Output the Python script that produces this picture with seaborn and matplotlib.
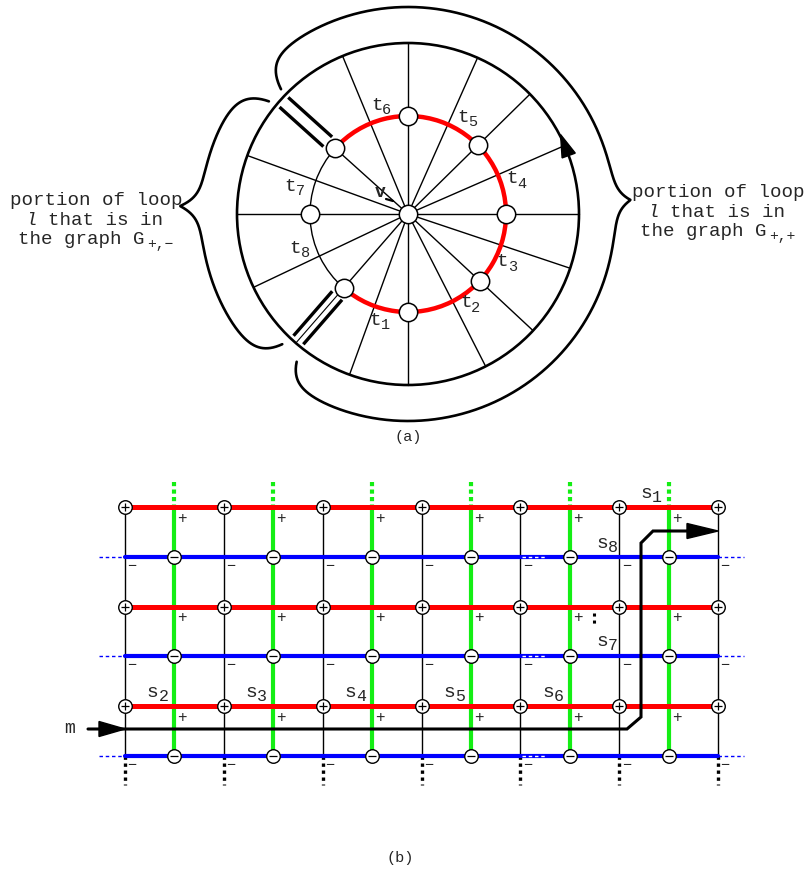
import numpy as np
import pandas as pd
import matplotlib
matplotlib.use("Agg")
import matplotlib.pyplot as plt
import seaborn as sns
from matplotlib.patches import Circle, Arc, Polygon

sns.set_style("white")
plt.rcParams['font.family'] = ['Liberation Mono', 'DejaVu Sans']

# ======== data ========

# (a) wheel: spoke directions (deg) and loop vertices t1..t8
spoke_angles = [90, 66, 44.5, 23.6, 0, -18.5, -43, -63, -90, -110, -131, -154.6, 180, 160, 138, 112.5]
cut_angles = [138, -131]            # spokes that are cut (double bars)
loop_node_angles = [90, 44.5, 0, -43, -90, -131, 180, 138]
red_arc = (-131, 138)               # part of loop in G+,+
t_names = ['1', '2', '3', '4', '5', '6', '7', '8']
t_angles = [-107, -57, -26.8, 18.6, 60.4, 106, 166.7, -163]
t_radius = [111, 106, 106, 110, 111, 113, 121, 118]

# (b) grid
n_black = 7
n_green = 6
red_rows = [0, 2, 4]
blue_rows = [1, 3, 5]
s_names = ['2', '3', '4', '5', '6']

# ======== layout (pixels) ========
W, H = 807, 871
cx, cy = 408, 214
R_out, R_in = 171, 98

x0, dx = 125, 98.85
y0, dy = 507, 49.8
gx0 = 174.4

fig = plt.figure(figsize=(W / 100, H / 100), dpi=100)
ax = fig.add_axes([0, 0, 1, 1])
ax.set_xlim(0, W)
ax.set_ylim(H, 0)
ax.axis('off')


def pol(a, r):
    t = np.deg2rad(a)
    return cx + r * np.cos(t), cy - r * np.sin(t)


def sub_text(x, y, base, sub, size, subsize, gap, drop, **kw):
    ax.text(x, y, base, fontsize=size, ha='center', va='center', **kw)
    ax.text(x + gap, y + drop, sub, fontsize=subsize, ha='center', va='center')


def brace(a0, a1, R, tip, h, hook0, hook1):
    th = np.linspace(a0, a1, 1500)
    r = R + h * np.exp(-np.abs(th - tip) / 2.6)
    r -= hook0 * np.exp(-(th - a0) / 3.2) + hook1 * np.exp(-(a1 - th) / 3.2)
    x, y = pol(th, r)
    ax.plot(x, y, color='black', lw=1.9, solid_capstyle='round', zorder=3)


# ---- (a) ----
for a in spoke_angles:
    if a in cut_angles:
        xe, ye = pol(a, R_in)
    else:
        xe, ye = pol(a, R_out)
    ax.plot([cx, xe], [cy, ye], color='black', lw=1.0, zorder=1)

# cut marks: two heavy parallel bars outside the loop
for a in cut_angles:
    xa, ya = pol(a, 108)
    xb, yb = pol(a, 167)
    L = np.hypot(xb - xa, yb - ya)
    nx, ny = -(yb - ya) / L, (xb - xa) / L
    for off in (-6.5, 6.5):
        ax.plot([xa + off * nx, xb + off * nx], [ya + off * ny, yb + off * ny],
                color='black', lw=2.4, solid_capstyle='butt', zorder=2)
    if a < 0:
        xa, ya = pol(a, 106)
        xb, yb = pol(a, 170)
        ax.plot([xa, xb], [ya, yb], color='black', lw=0.8, zorder=2)

ax.add_patch(Circle((cx, cy), R_out, fill=False, lw=1.9, color='black', zorder=2))
ax.add_patch(Arc((cx, cy), 2 * R_in, 2 * R_in, theta1=-red_arc[1], theta2=-red_arc[0],
                 color='red', lw=3.2, zorder=2))
ax.add_patch(Arc((cx, cy), 2 * R_in, 2 * R_in, theta1=-(red_arc[0] + 360), theta2=-red_arc[1],
                 color='black', lw=1.0, zorder=2))

# arrow on the outer circle
tipx, tipy = pol(27.5, R_out + 1)
bcx, bcy = pol(20, R_out)
tb = np.deg2rad(20)
ux, uy = np.cos(tb), -np.sin(tb)
ax.add_patch(Polygon([[tipx, tipy], [bcx + 7 * ux, bcy + 7 * uy], [bcx - 7 * ux, bcy - 7 * uy]],
                     closed=True, color='black', zorder=3))

nodes_a = pd.DataFrame({'x': [pol(a, R_in)[0] for a in loop_node_angles] + [cx],
                        'y': [pol(a, R_in)[1] for a in loop_node_angles] + [cy]})
sns.scatterplot(data=nodes_a, x='x', y='y', ax=ax, s=175, color='white',
                edgecolor='black', linewidth=1.1, zorder=5, legend=False)

for name, a, r in zip(t_names, t_angles, t_radius):
    lx, ly = pol(a, r)
    sub_text(lx, ly, 't', name, 14, 11, 10, 5)

ax.text(380, 192, 'v', fontsize=13, fontweight='bold', ha='center', va='center')
ax.plot([386, 393], [199, 201], color='black', lw=1.6)

brace(141, 226, 207, 178, 21, 28, 26)
brace(-127, 135.5, 207, 3.6, 16, 22, 29)

ax.text(10, 205, 'portion of loop', fontsize=13.8, ha='left', va='baseline')
ax.text(25, 225, 'l', fontsize=13.8, ha='left', va='baseline', style='italic')
ax.text(48, 225, 'that is in', fontsize=13.8, ha='left', va='baseline')
ax.text(18, 244, 'the graph G', fontsize=13.8, ha='left', va='baseline')
ax.text(147, 248, '+,\u2212', fontsize=10.5, ha='left', va='baseline')

ax.text(632, 197, 'portion of loop', fontsize=13.8, ha='left', va='baseline')
ax.text(647, 217, 'l', fontsize=13.8, ha='left', va='baseline', style='italic')
ax.text(670, 217, 'that is in', fontsize=13.8, ha='left', va='baseline')
ax.text(640, 236, 'the graph G', fontsize=13.8, ha='left', va='baseline')
ax.text(769, 240, '+,+', fontsize=10.5, ha='left', va='baseline')

ax.text(408, 437, '(a)', fontsize=11, ha='center', va='center')

# ---- (b) ----
bx = [x0 + i * dx for i in range(n_black)]
gx = [gx0 + i * dx for i in range(n_green)]
ry = [y0 + r * dy for r in red_rows]
by = [y0 + r * dy for r in blue_rows]
top, bot = ry[0], by[-1]

for x in bx:
    ax.plot([x, x], [top, bot], color='black', lw=1.0, zorder=1)
    ax.plot([x, x], [bot, bot + 29], color='black', lw=2.4, ls=(0, (1, 1.1)), zorder=1)
for x in gx:
    ax.plot([x, x], [top, bot], color='#14ee14', lw=3.0, zorder=2)
    ax.plot([x, x], [top - 25, top], color='#14ee14', lw=3.0, ls=(0, (1, 0.8)), zorder=2)

for y in ry:
    ax.plot([bx[0], bx[-1]], [y, y], color='red', lw=3.6, zorder=3)
for y in by:
    ax.plot([bx[0], bx[-1]], [y, y], color='blue', lw=3.0, zorder=3)
    ax.plot([bx[0] - 26, bx[0]], [y, y], color='blue', lw=1.0, ls=(0, (2.5, 2)), zorder=3)
    ax.plot([bx[-1], bx[-1] + 26], [y, y], color='blue', lw=1.0, ls=(0, (2.5, 2)), zorder=3)
    ax.plot([bx[4] + 2, bx[4] + 25], [y, y], color='white', lw=1.0, ls=(0, (2.5, 2)), zorder=3)

for x in gx:
    for y in ry:
        ax.text(x + 8, y + 11, '+', fontsize=11.5, ha='center', va='center')
for x in bx:
    for y in by:
        ax.text(x + 7, y + 9, '\u2212', fontsize=11, ha='center', va='center')

# path m
px = [88, 627, 641, 641, 653, 690]
py = [729, 729, 717, 543, 531, 531]
ax.plot(px, py, color='black', lw=2.2, zorder=4, solid_joinstyle='miter')
ax.add_patch(Polygon([[bx[0], 729], [99, 721.5], [99, 736.5]], closed=True, color='black', zorder=4))
ax.add_patch(Polygon([[bx[-1], 531], [687, 523.5], [687, 538.5]], closed=True, color='black', zorder=4))
ax.text(70, 728, 'm', fontsize=13, ha='center', va='center')

ax.plot([594, 594], [613, 627], color='black', lw=2.2, ls=(0, (1, 1.3)), zorder=4)

plus_df = pd.DataFrame([(x, y) for y in ry for x in bx], columns=['x', 'y'])
minus_df = pd.DataFrame([(x, y) for y in by for x in gx], columns=['x', 'y'])
for df, mk in [(plus_df, '+'), (minus_df, '_')]:
    sns.scatterplot(data=df, x='x', y='y', ax=ax, s=95, color='white',
                    edgecolor='black', linewidth=1.0, zorder=5, legend=False)
    ax.scatter(df['x'], df['y'], marker=mk, s=38, color='black', linewidths=0.9, zorder=6)

for i, name in enumerate(s_names):
    sub_text(gx[i] - 22, 692, 's', name, 14, 12, 11, 4)
sub_text(646, 493, 's', '1', 14, 12, 11, 4)
sub_text(602, 543, 's', '8', 14, 12, 11, 4)
sub_text(602, 641, 's', '7', 14, 12, 11, 4)

ax.text(400, 858, '(b)', fontsize=11, ha='center', va='center')

fig.savefig('out.png', dpi=100)
